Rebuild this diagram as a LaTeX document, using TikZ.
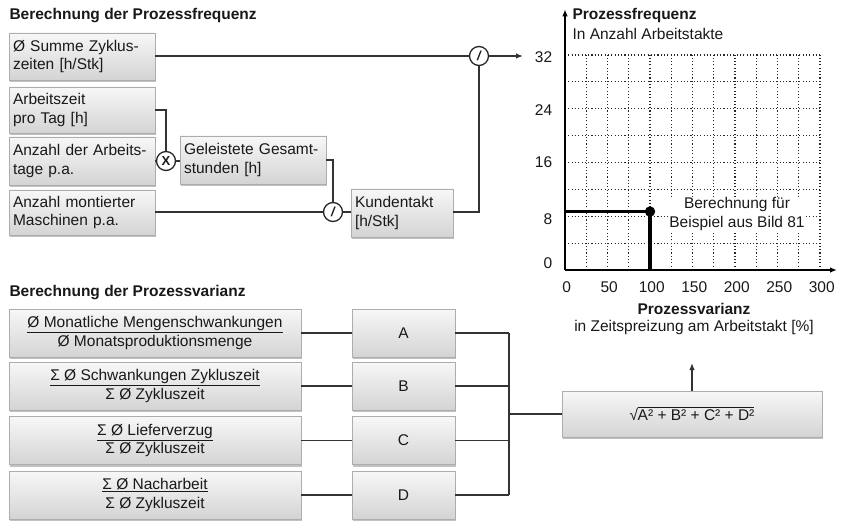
\documentclass[tikz,border=0pt]{standalone}
\usepackage{fontspec}
\setmainfont{Liberation Sans}
\usetikzlibrary{arrows.meta,shadows}
\newcommand\basefs{\fontsize{15.5pt}{18.5pt}\selectfont}
\begin{document}
\begin{tikzpicture}[x=1pt,y=-1pt,
  every node/.style={font=\basefs, text=black!90},
  fbox/.style={draw=black!32, line width=0.6pt, top color=black!3, bottom color=black!17,
    drop shadow={shadow xshift=1.2pt, shadow yshift=-2pt, opacity=0.4, fill=black!60},
    inner xsep=4pt, inner ysep=0pt},
  lbox/.style={fbox, align=left, text width=138pt},
  fracbox/.style={fbox, align=center, minimum width=292pt, minimum height=48pt},
  letterbox/.style={fbox, minimum width=103pt, minimum height=48pt},
  opnode/.style={circle, draw=black!85, line width=1.3pt, fill=white, minimum size=19pt,
    inner sep=0pt, font=\fontsize{13pt}{13pt}\selectfont\bfseries},
  conn/.style={draw=black!80, line width=1.3pt},
  tip/.style={-{Latex[length=7pt,width=5.5pt]}},
  gridline/.style={draw=black!85, line width=1.1pt, dash pattern=on 1.1pt off 2.2pt},
  title/.style={anchor=west, font=\basefs\bfseries}
]
\useasboundingbox[fill=white] (0,0) rectangle (842,521);

% ---------- Prozessfrequenz ----------
\node[title] (t1) at (6,16) {Berechnung der Prozessfrequenz};

\node[lbox, minimum height=47pt] (b1) at (82,56.5) {Ø Summe Zyklus-\\zeiten [h/Stk]};
\node[lbox, minimum height=46pt] (b2) at (82,110) {Arbeitszeit\\pro Tag [h]};
\node[lbox, minimum height=48pt] (b3) at (82,161) {Anzahl der Arbeits-\\tage p.a.};
\node[lbox, minimum height=45pt] (b4) at (82,212.5) {Anzahl montierter\\Maschinen p.a.};
\node[lbox, minimum height=48pt] (gs) at (253,160) {Geleistete Gesamt-\\stunden [h]};
\node[fbox, align=left, text width=94pt, minimum height=48pt] (kt) at (402,213) {Kundentakt\\{[h/Stk]}};

\node[opnode] (cx) at (166,161) {X};
\node[opnode] (c2) at (333,212) {\itshape /};
\node[opnode] (c1) at (479,56) {\itshape /};
\coordinate (fin) at (523,56);

\draw[conn] (b1.east |- c1) -- (c1);
\draw[conn, tip] (c1) -- (fin);
\draw[conn] (b2.east) -| (cx.north);
\draw[conn] (b3.east |- cx) -- (cx);
\draw[conn] (cx) -- (gs.west |- cx);
\draw[conn] (gs.east) -| (c2.north);
\draw[conn] (b4.east |- c2) -- (c2);
\draw[conn] (c2) -- (kt.west |- c2);
\draw[conn] (kt.east |- c2) -| (c1.south);

% ---------- Diagramm ----------
\node[anchor=west, font=\basefs\bfseries] (yt) at (569,15) {Prozessfrequenz};
\node[anchor=west] (ys) at (569,34) {In Anzahl Arbeitstakte};

\begin{scope}[shift={(565,270)}, x=0.85pt, y=6.72pt]
  \foreach \v in {4,8,...,32} \draw[gridline] (0,\v) -- (300,\v);
  \foreach \u in {25,50,...,300} \draw[gridline] (\u,0) -- (\u,32);
  \draw[line width=1.4pt, tip] (0,0) -- (320,0);
  \draw[line width=1.4pt, tip] (0,0) -- (0,38.8);
  \foreach \u in {0,50,...,300} \node (xl\u) at (\u+2,-2.5) {\u};
  \foreach \v/\p in {32/31.6, 24/23.8, 16/16, 8/7.5, 0/1}
    \node[anchor=east] (yl\v) at (-11,\p) {\v};
  \draw[line width=3.6pt] (0,8.7) -- (100,8.7) -- (100,0);
  \coordinate (pt) at (100,8.7);
  \fill (pt) circle (5.2pt);
\end{scope}

\node[fill=white, align=center, inner sep=1pt] (bsp) at (737,214) {Berechnung für\\Beispiel aus Bild 81};

\node[font=\basefs\bfseries] (pv) at (694,309) {Prozessvarianz};
\node (pvs) at (694,327.5) {in Zeitspreizung am Arbeitstakt [\%]};

% ---------- Prozessvarianz ----------
\node[title] (t2) at (6,293) {Berechnung der Prozessvarianz};

\node[fracbox] (f1) at (155,333) {\underline{Ø Monatliche Mengenschwankungen}\\Ø Monatsproduktionsmenge};
\node[fracbox] (f2) at (155,386) {\underline{Σ Ø Schwankungen Zykluszeit}\\Σ Ø Zykluszeit};
\node[fracbox] (f3) at (155,440.5) {\underline{Σ Ø Lieferverzug}\\Σ Ø Zykluszeit};
\node[fracbox] (f4) at (155,495) {\underline{Σ Ø Nacharbeit}\\Σ Ø Zykluszeit};

\node[letterbox] (lA) at (403.5,333) {A};
\node[letterbox] (lB) at (403.5,386) {B};
\node[letterbox] (lC) at (403.5,440.5) {C};
\node[letterbox] (lD) at (403.5,495) {D};

\node[fbox, minimum width=260pt, minimum height=46pt] (fm) at (692,414)
  {√\kern-0.4pt\vbox{\hrule height 0.8pt\kern1.3pt\hbox{A² + B² + C² + D²}}};

\coordinate (bus) at (509,414);
\coordinate (pvin) at (692,363);

\foreach \k in {1,2,3,4} \draw[conn] (f\k.east) -- (f\k.east -| lA.west);
\foreach \L in {A,B,C,D} \draw[conn] (l\L.east) -- (l\L.east -| bus);
\draw[conn] (lA.east -| bus) -- (lD.east -| bus);
\draw[conn] (bus) -- (fm.west);
\draw[conn, tip] (fm.north) -- (pvin);
\end{tikzpicture}
\end{document}
